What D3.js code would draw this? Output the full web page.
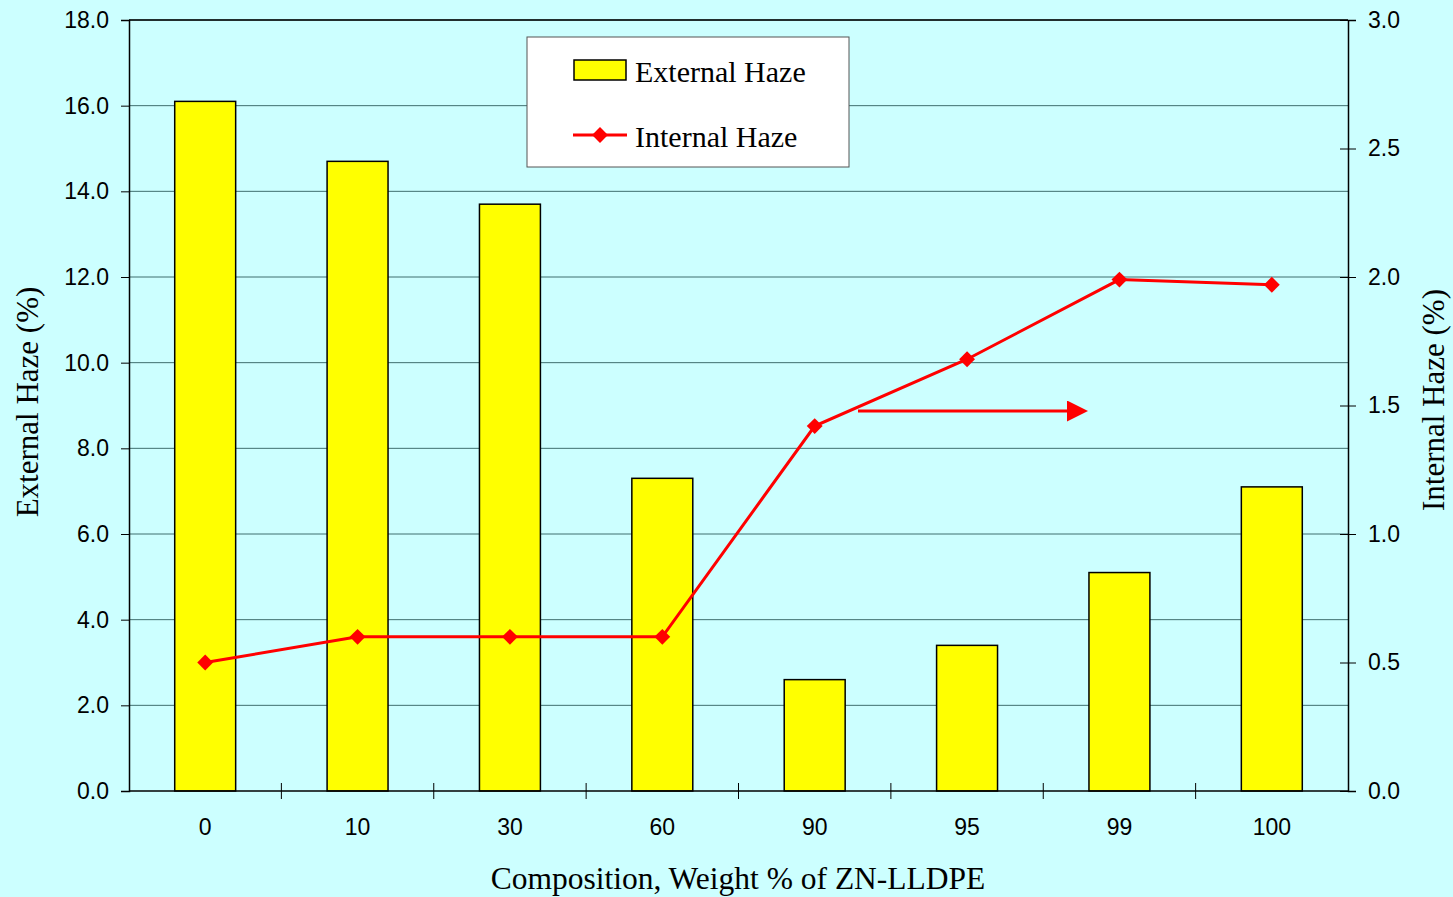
<!DOCTYPE html>
<html lang="en">
<head>
	<meta charset="UTF-8"/>
	<title>External and Internal Haze</title>
	<script src="https://d3js.org/d3.v7.min.js"></script>
	<style>
		body { margin: 0; background: #ccffff; }
		svg { display: block; }
	</style>
</head>
<body>
	<script>
	// ***data***
		var categories = ["0", "10", "30", "60", "90", "95", "99", "100"];
		var externalHaze = [16.1, 14.7, 13.7, 7.3, 2.6, 3.4, 5.1, 7.1];
		var internalHaze = [0.50, 0.60, 0.60, 0.60, 1.42, 1.68, 1.99, 1.97];
		var leftTicks = [0, 2, 4, 6, 8, 10, 12, 14, 16, 18];
		var rightTicks = [0, 0.5, 1, 1.5, 2, 2.5, 3];

		var w = 1453;
		var h = 897;
		var plotLeft = 129, plotRight = 1348, plotTop = 20, plotBottom = 791;

		var xScale = d3.scaleBand()
					.domain(categories)
					.range([plotLeft, plotRight])
					.paddingInner(0.6)
					.paddingOuter(0.3);

		var yLeft = d3.scaleLinear()
					.domain([0, 18])
					.range([plotBottom, plotTop]);

		var yRight = d3.scaleLinear()
					.domain([0, 3])
					.range([plotBottom, plotTop]);

		var svg = d3.select("body")
					.append("svg")
					.attr("width", w)
					.attr("height", h);

		// gridlines
		svg.selectAll("line.grid")
			.data(leftTicks.slice(1))
			.enter()
			.append("line")
			.attr("class", "grid")
			.attr("x1", plotLeft)
			.attr("x2", plotRight)
			.attr("y1", d => yLeft(d))
			.attr("y2", d => yLeft(d))
			.attr("stroke", "#3f6f6f")
			.attr("stroke-width", 1);

		// bars
		svg.selectAll("rect.bar")
			.data(externalHaze)
			.enter()
			.append("rect")
			.attr("class", "bar")
			.attr("x", (d, i) => xScale(categories[i]))
			.attr("width", xScale.bandwidth())
			.attr("y", d => yLeft(d))
			.attr("height", d => plotBottom - yLeft(d))
			.attr("fill", "#ffff00")
			.attr("stroke", "#000")
			.attr("stroke-width", 1.5);

		// left axis
		var leftAxis = d3.axisLeft(yLeft)
					.tickValues(leftTicks)
					.tickSize(8)
					.tickPadding(12)
					.tickFormat(d3.format(".1f"));
		var gL = svg.append("g")
			.attr("transform", "translate(" + plotLeft + ",0)")
			.call(leftAxis);

		// right axis
		var rightAxis = d3.axisRight(yRight)
					.tickValues(rightTicks)
					.tickSize(8)
					.tickPadding(12)
					.tickFormat(d3.format(".1f"));
		var gR = svg.append("g")
			.attr("transform", "translate(" + plotRight + ",0)")
			.call(rightAxis);
		gR.selectAll(".tick line").attr("x1", -8);

		// bottom axis, ticks between categories
		var xAxis = d3.axisBottom(xScale)
					.tickSize(0)
					.tickPadding(28);
		var gX = svg.append("g")
			.attr("transform", "translate(0," + plotBottom + ")")
			.call(xAxis);
		var sep = d3.range(1, categories.length).map(i => plotLeft + i * (plotRight - plotLeft) / categories.length);
		gX.selectAll("line.sep")
			.data(sep)
			.enter()
			.append("line")
			.attr("class", "sep")
			.attr("x1", d => d).attr("x2", d => d)
			.attr("y1", -8).attr("y2", 8)
			.attr("stroke", "#000");

		[gL, gR, gX].forEach(function(g) {
			g.select(".domain").attr("stroke", "#000").attr("stroke-width", 1.5);
			g.selectAll(".tick line").attr("stroke", "#000");
			g.selectAll("text")
				.attr("font-family", "Liberation Sans, Arial, sans-serif")
				.attr("font-size", 23)
				.attr("fill", "#000");
		});
		gX.select(".domain").attr("d", "M" + plotLeft + ",0H" + plotRight);

		// top border
		svg.append("line")
			.attr("x1", plotLeft).attr("x2", plotRight)
			.attr("y1", plotTop).attr("y2", plotTop)
			.attr("stroke", "#000").attr("stroke-width", 1.5);

		// internal haze line
		var line = d3.line()
			.x((d, i) => xScale(categories[i]) + xScale.bandwidth() / 2)
			.y(d => yRight(d));

		svg.append("path")
			.datum(internalHaze)
			.attr("d", line)
			.attr("fill", "none")
			.attr("stroke", "#ff0000")
			.attr("stroke-width", 3);

		var diamond = d3.symbol().type(d3.symbolDiamond2).size(160);
		svg.selectAll("path.marker")
			.data(internalHaze)
			.enter()
			.append("path")
			.attr("class", "marker")
			.attr("d", diamond)
			.attr("transform", (d, i) => "translate(" + (xScale(categories[i]) + xScale.bandwidth() / 2) + "," + yRight(d) + ")")
			.attr("fill", "#ff0000");

		// arrow pointing to the right axis
		svg.append("defs").append("marker")
			.attr("id", "arrow")
			.attr("viewBox", "0 0 10 10")
			.attr("refX", 0).attr("refY", 5)
			.attr("markerWidth", 7).attr("markerHeight", 7)
			.attr("markerUnits", "strokeWidth")
			.attr("orient", "auto")
			.append("path")
			.attr("d", "M0,0L10,5L0,10Z")
			.attr("fill", "#ff0000");

		svg.append("line")
			.attr("x1", 858).attr("x2", 1067)
			.attr("y1", 411).attr("y2", 411)
			.attr("stroke", "#ff0000")
			.attr("stroke-width", 3)
			.attr("marker-end", "url(#arrow)");

		// legend
		var serif = "Liberation Serif, Times New Roman, serif";
		var lg = svg.append("g").attr("transform", "translate(527,37)");
		lg.append("rect")
			.attr("width", 322).attr("height", 130)
			.attr("fill", "#fff")
			.attr("stroke", "#555").attr("stroke-width", 1);
		lg.append("rect")
			.attr("x", 47).attr("y", 23).attr("width", 52).attr("height", 20)
			.attr("fill", "#ffff00").attr("stroke", "#000").attr("stroke-width", 1.5);
		lg.append("line")
			.attr("x1", 46).attr("x2", 100).attr("y1", 98).attr("y2", 98)
			.attr("stroke", "#ff0000").attr("stroke-width", 3);
		lg.append("path")
			.attr("d", diamond)
			.attr("transform", "translate(73,98)")
			.attr("fill", "#ff0000");
		lg.selectAll("text")
			.data(["External Haze", "Internal Haze"])
			.enter()
			.append("text")
			.attr("x", 108)
			.attr("y", (d, i) => 45 + i * 65)
			.text(d => d)
			.attr("font-family", serif)
			.attr("font-size", 30)
			.attr("fill", "#000");

		// axis titles
		svg.append("text")
			.attr("transform", "translate(38,402) rotate(-90)")
			.attr("text-anchor", "middle")
			.attr("font-family", serif).attr("font-size", 31)
			.text("External Haze (%)");
		svg.append("text")
			.attr("transform", "translate(1444,400) rotate(-90)")
			.attr("text-anchor", "middle")
			.attr("font-family", serif).attr("font-size", 31)
			.text("Internal Haze (%)");
		svg.append("text")
			.attr("x", 738).attr("y", 889)
			.attr("text-anchor", "middle")
			.attr("font-family", serif).attr("font-size", 31.5)
			.text("Composition, Weight % of ZN-LLDPE");
	</script>
</body>
</html>
